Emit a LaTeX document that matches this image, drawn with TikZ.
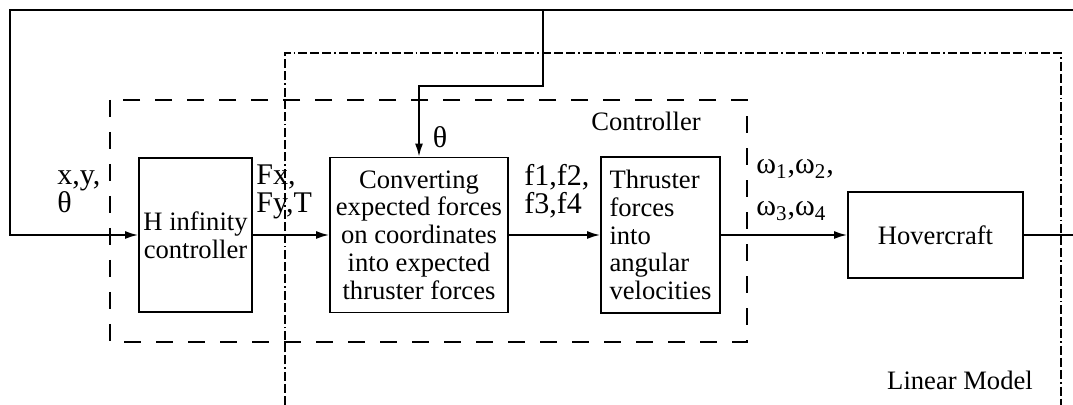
\documentclass[tikz,border=0pt]{standalone}
\usepackage{fontspec}
\setmainfont{Liberation Serif}
\usetikzlibrary{arrows.meta}

\begin{document}
\begin{tikzpicture}[x=0.5pt, y=-0.5pt,
      block/.style ={rectangle, draw, line width=0.9pt, align=center, inner sep=2pt,
                     font=\fontsize{13.3}{13.9}\selectfont},
      signal/.style ={align=left, inner sep=0pt, font=\fontsize{15}{14}\selectfont},
      boxname/.style ={inner sep=0pt, font=\fontsize{13.3}{14}\selectfont},
      flow/.style ={line width=0.9pt, -{Latex[length=6.5pt,width=4pt]}},
      wire/.style ={line width=0.9pt},
      group/.style ={line width=0.8pt, dash pattern=on 8.5pt off 7.5pt},
      plant/.style ={line width=0.6pt, dash pattern=on 4.5pt off 1.5pt on 4.5pt off 1.5pt on 4.5pt off 1.5pt on 0.8pt off 1.5pt}]
   \useasboundingbox (0,0) rectangle (1073,405);

   \draw[group] (110,100) rectangle (747,342);
   \node[boxname] (ctrlname) at (646,121) {Controller};

   \coordinate (lmL) at (285,405);
   \coordinate (lmR) at (1061,405);
   \draw[plant] (lmL) |- (1061,53) -- (lmR);
   \node[boxname] (lmname) at (960,380) {Linear Model};

   \node[block, minimum width=56.5pt, minimum height=77pt] (hinf) at (195.5,235) {H infinity\\controller};
   \node[block, minimum width=89pt, minimum height=77.5pt] (conv) at (419,235)
        {Converting\\expected forces\\on coordinates\\into expected\\thruster forces};
   \node[block, minimum width=59.5pt, minimum height=78pt, align=left, inner sep=4pt] (thr) at (660.5,235)
        {Thruster\\forces\\into\\angular\\velocities};
   \node[block, minimum width=87.5pt, minimum height=43pt] (hov) at (935.5,235) {Hovercraft};

   \node[signal, anchor=west] (xyt) at (57,192) {x,y,\\θ};
   \node[signal, anchor=west] (fxy) at (256,192) {Fx,\\Fy,T};
   \node[signal, anchor=west] (fff) at (524,191) {f1,f2,\\f3,f4};
   \node[signal, anchor=west, font=\fontsize{15}{21}\selectfont] (www) at (756,190)
        {ω\textsubscript{1},ω\textsubscript{2},\\ω\textsubscript{3},ω\textsubscript{4}};
   \node[signal] (th) at (440,137) {θ};

   \coordinate (tl) at (10,10);
   \coordinate (tr) at (1073,10);
   \coordinate (tap) at (543,10);
   \coordinate (kink) at (543,86);
   \coordinate (out) at (1073,235);

   \draw[flow] (tr) -- (tl) |- (hinf);
   \draw[flow] (tap) -- (kink) -| (conv);
   \draw[flow] (hinf) to (conv);
   \draw[flow] (conv) to (thr);
   \draw[flow] (thr) to (hov);
   \draw[wire] (hov) to (out);
\end{tikzpicture}
\end{document}
